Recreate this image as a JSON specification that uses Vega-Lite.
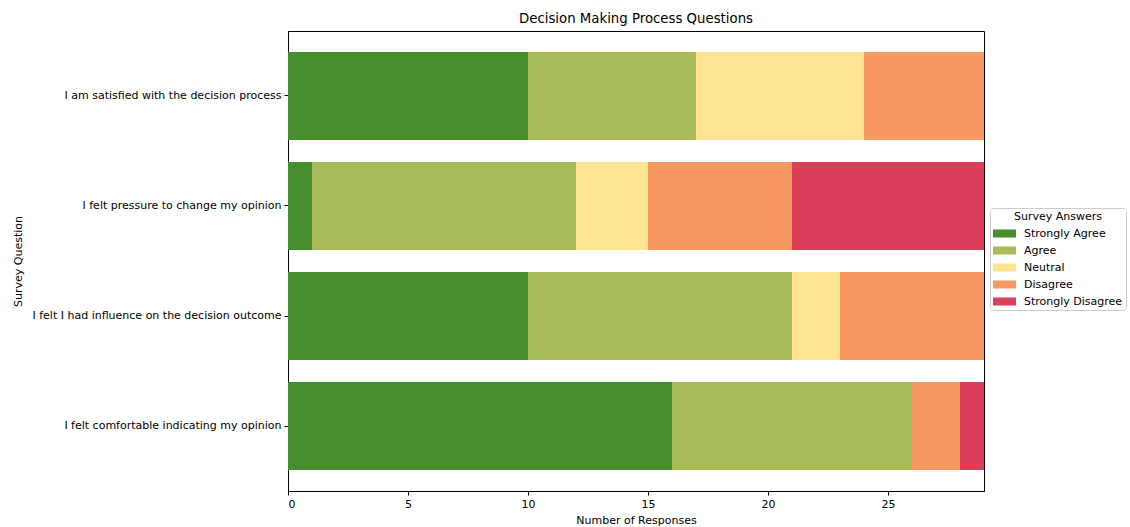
{
  "$schema": "https://vega.github.io/schema/vega-lite/v6.json",
  "autosize": "none",
  "width": 696,
  "height": 460,
  "padding": {"left": 288, "top": 31, "right": 146, "bottom": 36},
  "background": "white",
  "title": {"text": "Decision Making Process Questions", "font": "DejaVu Sans", "fontSize": 13.3, "fontWeight": "normal", "color": "black", "offset": 6},
  "config": {
    "view": {"stroke": "black", "strokeWidth": 1},
    "font": "DejaVu Sans"
  },
  "data": {"values": [
    {"q": "I am satisfied with the decision process", "a": "Strongly Agree", "k": 1, "n": 10},
    {"q": "I am satisfied with the decision process", "a": "Agree", "k": 2, "n": 7},
    {"q": "I am satisfied with the decision process", "a": "Neutral", "k": 3, "n": 7},
    {"q": "I am satisfied with the decision process", "a": "Disagree", "k": 4, "n": 5},
    {"q": "I am satisfied with the decision process", "a": "Strongly Disagree", "k": 5, "n": 0},
    {"q": "I felt pressure to change my opinion", "a": "Strongly Agree", "k": 1, "n": 1},
    {"q": "I felt pressure to change my opinion", "a": "Agree", "k": 2, "n": 11},
    {"q": "I felt pressure to change my opinion", "a": "Neutral", "k": 3, "n": 3},
    {"q": "I felt pressure to change my opinion", "a": "Disagree", "k": 4, "n": 6},
    {"q": "I felt pressure to change my opinion", "a": "Strongly Disagree", "k": 5, "n": 8},
    {"q": "I felt I had influence on the decision outcome", "a": "Strongly Agree", "k": 1, "n": 10},
    {"q": "I felt I had influence on the decision outcome", "a": "Agree", "k": 2, "n": 11},
    {"q": "I felt I had influence on the decision outcome", "a": "Neutral", "k": 3, "n": 2},
    {"q": "I felt I had influence on the decision outcome", "a": "Disagree", "k": 4, "n": 6},
    {"q": "I felt I had influence on the decision outcome", "a": "Strongly Disagree", "k": 5, "n": 0},
    {"q": "I felt comfortable indicating my opinion", "a": "Strongly Agree", "k": 1, "n": 16},
    {"q": "I felt comfortable indicating my opinion", "a": "Agree", "k": 2, "n": 10},
    {"q": "I felt comfortable indicating my opinion", "a": "Neutral", "k": 3, "n": 0},
    {"q": "I felt comfortable indicating my opinion", "a": "Disagree", "k": 4, "n": 2},
    {"q": "I felt comfortable indicating my opinion", "a": "Strongly Disagree", "k": 5, "n": 1}
  ]},
  "mark": {"type": "bar"},
  "encoding": {
    "y": {
      "field": "q", "type": "nominal",
      "sort": ["I am satisfied with the decision process", "I felt pressure to change my opinion", "I felt I had influence on the decision outcome", "I felt comfortable indicating my opinion"],
      "scale": {"paddingInner": 0.2, "paddingOuter": 0.19},
      "axis": {
        "title": "Survey Question", "titleFontSize": 11, "titleFontWeight": "normal", "titleColor": "black",
        "titleAngle": -90, "titleX": -270, "titleY": 230, "titleAlign": "center", "titleBaseline": "middle",
        "labelFontSize": 11, "labelColor": "black", "labelLimit": 400, "labelPadding": 3,
        "tickSize": 4, "tickColor": "black", "domainColor": "black"
      }
    },
    "x": {
      "field": "n", "type": "quantitative", "stack": "zero",
      "scale": {"domain": [0, 29], "nice": false},
      "axis": {
        "title": "Number of Responses", "titleFontSize": 11, "titleFontWeight": "normal", "titleColor": "black",
        "titleY": 29, "titleBaseline": "middle",
        "values": [0, 5, 10, 15, 20, 25], "grid": false,
        "labelFontSize": 11, "labelColor": "black", "labelPadding": 3,
        "tickSize": 4, "tickColor": "black", "domainColor": "black"
      }
    },
    "order": {"field": "k", "type": "quantitative"},
    "color": {
      "field": "a", "type": "nominal",
      "scale": {
        "domain": ["Strongly Agree", "Agree", "Neutral", "Disagree", "Strongly Disagree"],
        "range": ["#478e2f", "#a8bb59", "#fde493", "#f79761", "#dc3d59"]
      },
      "legend": {
        "title": "Survey Answers", "orient": "none", "legendX": 702, "legendY": 177,
        "titleFontSize": 11, "titleFontWeight": "normal", "titleColor": "black", "titleAnchor": "middle", "titlePadding": 0,
        "labelFontSize": 11, "labelColor": "black", "labelOffset": 8,
        "symbolType": "M-1,-0.35L1,-0.35L1,0.35L-1,0.35Z", "symbolSize": 529, "symbolStrokeWidth": 0,
        "rowPadding": -6, "padding": 3,
        "strokeColor": "#cccccc", "fillColor": "white", "cornerRadius": 3
      }
    }
  }
}
